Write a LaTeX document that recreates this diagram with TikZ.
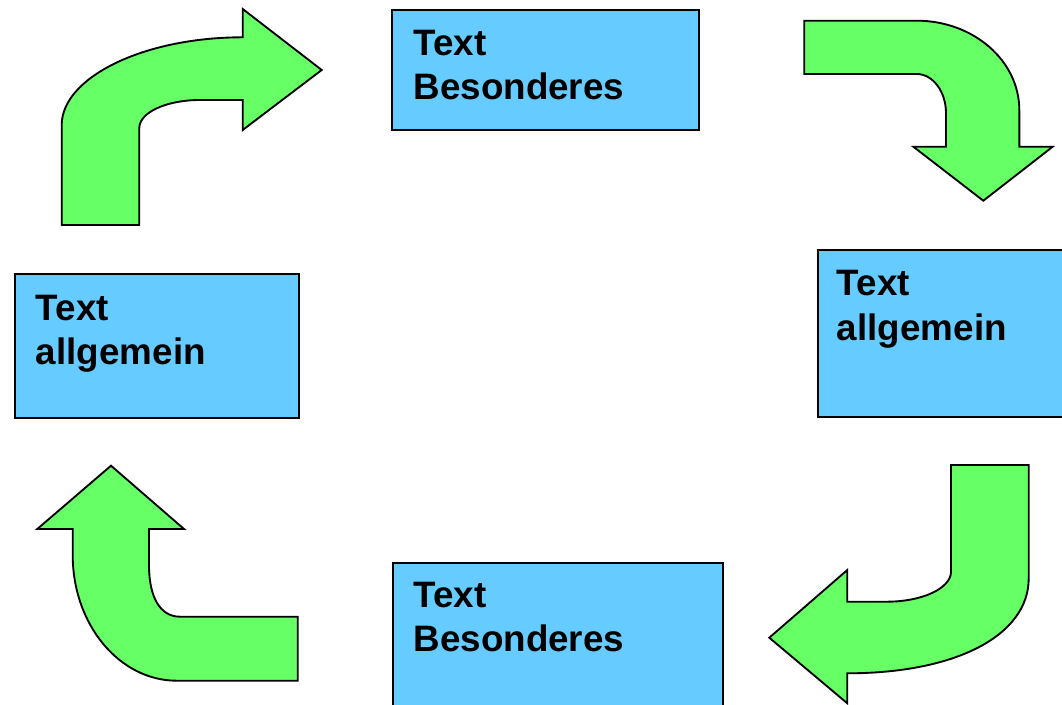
\documentclass[tikz,border=0pt]{standalone}
\usepackage{fontspec}
\setmainfont{Liberation Sans}
\definecolor{boxblue}{HTML}{66CCFF}
\definecolor{arrgreen}{HTML}{66FF66}
\begin{document}
\begin{tikzpicture}[x=0.75pt,y=-0.75pt,
  box/.style={draw=black,fill=boxblue,line width=1.5pt,anchor=north west,inner sep=0pt},
  lbl/.style={anchor=base west,align=left,inner sep=0pt,font=\fontsize{27.6}{33.3}\selectfont\bfseries},
  bent/.style={draw=black,fill=arrgreen,line width=1.4pt,line join=miter}]
\useasboundingbox (0,0) rectangle (1062,705);
\clip (0,0) rectangle (1062,705);
% boxes
\node[box,minimum width=230.5pt,minimum height=90pt] (b1) at (391,9) {};
\node[box,minimum width=200pt,minimum height=125pt] (b2) at (816.7,249.3) {};
\node[box,minimum width=212.8pt,minimum height=108pt] (b3) at (14,273.3) {};
\node[box,minimum width=248pt,minimum height=120pt] (b4) at (391.7,561.7) {};
\node[lbl] (t1) at (413.3,100) {Text\\Besonderes};
\node[lbl] (t2) at (836.7,340) {Text\\allgemein};
\node[lbl] (t3) at (35.7,364.5) {Text\\allgemein};
\node[lbl] (t4) at (413.3,651.7) {Text\\Besonderes};
% bent arrows
\path[bent] (61.7,225) -- (61.7,125) .. controls (61.7,78) and (142.6,37.3) .. (242.7,37.3)
  -- (242.7,9) -- (321.7,70) -- (242.7,130) -- (242.7,100) -- (200,100)
  .. controls (166.3,100) and (139.3,112.5) .. (139.3,128) -- (139.3,225) -- cycle;
\path[bent] (804.3,20.7) -- (916.7,20.7) .. controls (973.3,20.7) and (1019.3,60.7) .. (1019.3,110)
  -- (1019.3,146.7) -- (1052.7,146.7) -- (983.3,200.7) -- (913.3,146.7) -- (946,146.7) -- (946,113.3)
  .. controls (946,91.6) and (932.9,74) .. (916.7,74) -- (804.3,74) -- cycle;
\path[bent] (951,465) -- (1028.7,465) -- (1028.7,578.3) .. controls (1028.7,635.3) and (956.1,673.3) .. (847.3,673.3)
  -- (847.3,703.3) -- (769.3,637.7) -- (847.3,570) -- (847.3,601.7) -- (886.7,601.7)
  .. controls (922.2,601.7) and (951,588.3) .. (951,571.7) -- cycle;
\path[bent] (297.7,616.7) -- (180,616.7) .. controls (160,616.7) and (149,597) .. (149,565)
  -- (149,529) -- (184,529) -- (111,465.7) -- (37.3,529) -- (72.7,529) -- (72.7,555)
  .. controls (72.7,624.4) and (119.3,680.7) .. (176.7,680.7) -- (297.7,680.7) -- cycle;
\end{tikzpicture}
\end{document}
